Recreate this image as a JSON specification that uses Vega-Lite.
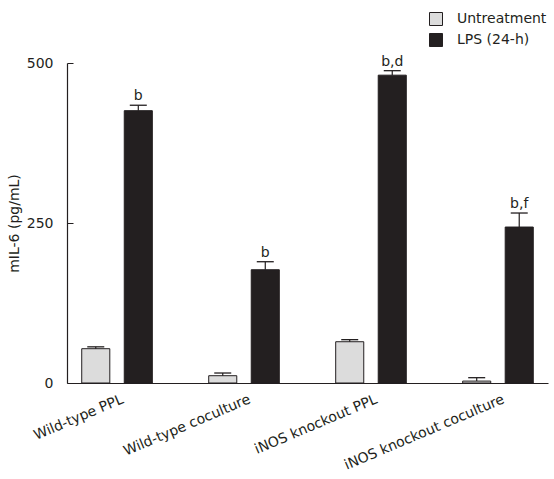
{
  "$schema": "https://vega.github.io/schema/vega-lite/v6.json",
  "width": 481,
  "height": 320,
  "autosize": {"type": "none"},
  "padding": {"left": 67, "top": 63, "right": 6, "bottom": 96},
  "background": "white",
  "config": {
    "view": {"stroke": null},
    "font": "DejaVu Sans",
    "axis": {"labelFont": "DejaVu Sans", "titleFont": "DejaVu Sans", "labelColor": "#231f20", "titleColor": "#231f20", "domainColor": "#231f20", "tickColor": "#231f20", "grid": false},
    "legend": {"labelFont": "DejaVu Sans", "labelColor": "#231f20"}
  },
  "data": {
    "values": [
      {"group": "Wild-type PPL", "treatment": "Untreatment", "value": 53.6, "upper": 56.5, "label": ""},
      {"group": "Wild-type PPL", "treatment": "LPS (24-h)", "value": 425.5, "upper": 434, "label": "b"},
      {"group": "Wild-type coculture", "treatment": "Untreatment", "value": 11.4, "upper": 15.6, "label": ""},
      {"group": "Wild-type coculture", "treatment": "LPS (24-h)", "value": 177, "upper": 189.5, "label": "b"},
      {"group": "iNOS knockout PPL", "treatment": "Untreatment", "value": 64.5, "upper": 67.7, "label": ""},
      {"group": "iNOS knockout PPL", "treatment": "LPS (24-h)", "value": 481, "upper": 488, "label": "b,d"},
      {"group": "iNOS knockout coculture", "treatment": "Untreatment", "value": 3, "upper": 8.3, "label": ""},
      {"group": "iNOS knockout coculture", "treatment": "LPS (24-h)", "value": 243.7, "upper": 265.6, "label": "b,f"}
    ]
  },
  "encoding": {
    "x": {
      "field": "group", "type": "nominal",
      "sort": ["Wild-type PPL", "Wild-type coculture", "iNOS knockout PPL", "iNOS knockout coculture"],
      "scale": {"paddingInner": 0.444, "paddingOuter": 0.116},
      "axis": {"title": null, "ticks": false, "labelAngle": -23, "labelAlign": "right", "labelBaseline": "top", "labelFontSize": 14, "labelPadding": 9, "labelOffset": 3, "domainWidth": 1.2}
    },
    "xOffset": {
      "field": "treatment", "type": "nominal",
      "sort": ["Untreatment", "LPS (24-h)"],
      "scale": {"paddingInner": 0.34, "paddingOuter": 0}
    }
  },
  "layer": [
    {
      "mark": {"type": "bar", "stroke": "#231f20", "strokeWidth": 1},
      "encoding": {
        "y": {
          "field": "value", "type": "quantitative",
          "scale": {"domain": [0, 500], "nice": false},
          "axis": {"title": "mIL-6 (pg/mL)", "titleFontSize": 14, "titleFontWeight": "normal", "titlePadding": 5, "values": [0, 250, 500], "labelFontSize": 14, "tickSize": -6, "labelPadding": 20, "domainWidth": 1.2}
        },
        "color": {
          "field": "treatment", "type": "nominal",
          "sort": ["Untreatment", "LPS (24-h)"],
          "scale": {"domain": ["Untreatment", "LPS (24-h)"], "range": ["#dcdcdc", "#231f20"]},
          "legend": {"title": null, "orient": "none", "legendX": 362, "legendY": -51, "symbolType": "square", "symbolSize": 169, "symbolStrokeColor": "#231f20", "symbolStrokeWidth": 1, "labelFontSize": 14, "labelOffset": 14, "rowPadding": 3, "symbolOpacity": 1}
        }
      }
    },
    {
      "mark": {"type": "rule", "color": "#231f20", "strokeWidth": 1.2},
      "encoding": {
        "y": {"field": "value", "type": "quantitative"},
        "y2": {"field": "upper"}
      }
    },
    {
      "mark": {"type": "tick", "color": "#231f20", "size": 17, "thickness": 1.3, "opacity": 1},
      "encoding": {
        "y": {"field": "upper", "type": "quantitative"}
      }
    },
    {
      "mark": {"type": "text", "font": "DejaVu Sans", "fontSize": 14, "color": "#231f20", "baseline": "alphabetic", "dy": -5},
      "encoding": {
        "y": {"field": "upper", "type": "quantitative"},
        "text": {"field": "label"}
      }
    }
  ]
}
